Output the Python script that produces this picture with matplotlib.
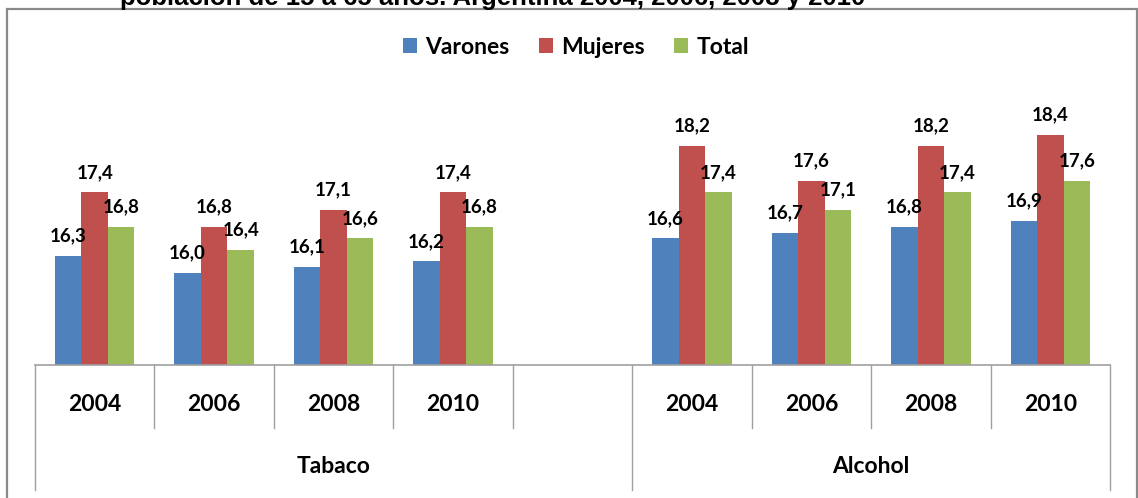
import matplotlib
matplotlib.use("Agg")
from matplotlib import pyplot as plt
from matplotlib.patches import Rectangle

# data
years = ["2004", "2006", "2008", "2010"]
groups = ["Tabaco", "Alcohol"]
series_names = ["Varones", "Mujeres", "Total"]
varones_tabaco = [16.3, 16.0, 16.1, 16.2]
mujeres_tabaco = [17.4, 16.8, 17.1, 17.4]
total_tabaco = [16.8, 16.4, 16.6, 16.8]
varones_alcohol = [16.6, 16.7, 16.8, 16.9]
mujeres_alcohol = [18.2, 17.6, 18.2, 18.4]
total_alcohol = [17.4, 17.1, 17.4, 17.6]
title = "población de 15 a 65 años. Argentina 2004, 2006, 2008 y 2010"

colors = ["#4F81BD", "#C0504D", "#9BBB59"]
W, H = 1138, 498

fig = plt.figure(figsize=(W / 100, H / 100), dpi=100)
ax = fig.add_axes([35 / W, 1 - 365 / H, (1110 - 35) / W, (365 - 60) / H])

# slots: 4 tabaco years, one empty slot, 4 alcohol years
tabaco_x = [0, 1, 2, 3]
alcohol_x = [5, 6, 7, 8]
series = [
    (varones_tabaco, varones_alcohol),
    (mujeres_tabaco, mujeres_alcohol),
    (total_tabaco, total_alcohol),
]
bw = 0.222
for i, (tab, alc) in enumerate(series):
    off = (i - 1) * bw
    xs = [x + off for x in tabaco_x + alcohol_x]
    vals = tab + alc
    ax.bar(xs, vals, width=bw, color=colors[i], label=series_names[i], zorder=2)
    for x, v in zip(xs, vals):
        ax.annotate(f"{v:.1f}".replace(".", ","), (x, v), xytext=(0, 10.5),
                    textcoords="offset points", ha="center", va="baseline",
                    fontsize=13.5, fontweight="bold", family="Lato")

ax.set_xlim(-0.5, 8.5)
ax.set_ylim(14.4, 19.7)
for s in ax.spines.values():
    s.set_visible(False)
ax.set_xticks([])
ax.set_yticks([])

# category axis drawn as table lines
tr = ax.get_xaxis_transform()
grey = "#A0A0A0"
ax.plot([-0.5, 8.5], [0, 0], color=grey, lw=1.2, transform=tr, clip_on=False)
for b in [0.5, 1.5, 2.5, 3.5, 5.5, 6.5, 7.5]:
    ax.plot([b, b], [0, -0.207], color=grey, lw=1, transform=tr, clip_on=False)
for b in [-0.5, 4.5, 8.5]:
    ax.plot([b, b], [0, -0.41], color=grey, lw=1, transform=tr, clip_on=False)
for x, y in zip(tabaco_x + alcohol_x, years + years):
    ax.text(x, -0.131, y, transform=tr, ha="center", va="center",
            fontsize=16.5, fontweight="bold", family="Lato")
ax.text(2, -0.334, groups[0], transform=tr, ha="center", va="center",
        fontsize=16.5, fontweight="bold", family="Lato")
ax.text(6.5, -0.334, groups[1], transform=tr, ha="center", va="center",
        fontsize=16.5, fontweight="bold", family="Lato")

fig.legend(loc="center", bbox_to_anchor=(576 / W, 1 - 47 / H), ncol=3,
           frameon=False, handlelength=0.6, handleheight=0.6, handletextpad=0.35,
           columnspacing=1.3, prop={"family": "Lato", "weight": "bold", "size": 16.5})

# chart border
fig.patches.append(Rectangle((7 / W, -0.05), (1137 - 7) / W, 1.05 - 9 / H,
                             transform=fig.transFigure, fill=False,
                             edgecolor="#8A8A8A", lw=1.6))

fig.text(120 / W, 1 - 5 / H, title, ha="left", va="baseline", fontsize=18.5,
         fontweight="bold", family="Liberation Sans")

fig.savefig("out.png", dpi=100)
